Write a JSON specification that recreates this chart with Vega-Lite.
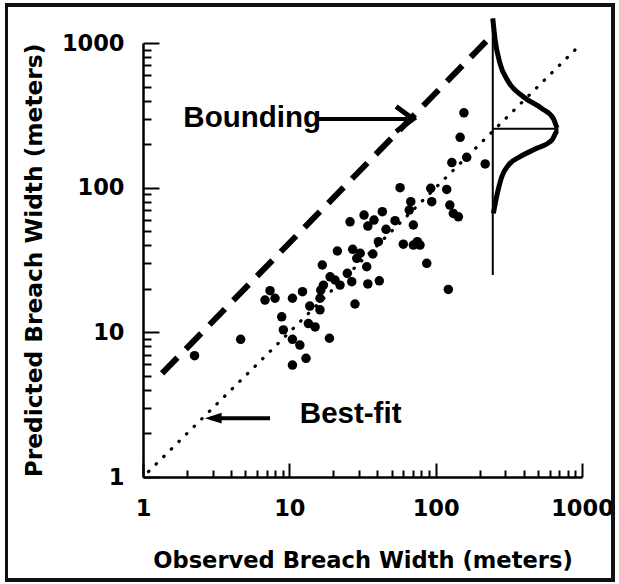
{
  "$schema": "https://vega.github.io/schema/vega-lite/v6.json",
  "width": 439,
  "height": 434,
  "autosize": "none",
  "padding": {"left": 143, "top": 43, "right": 37, "bottom": 107},
  "background": "white",
  "config": {"view": {"stroke": null}, "font": "DejaVu Sans"},
  "resolve": {"axis": {"x": "independent", "y": "independent"}},
  "datasets": {
    "breaches": [
      {"obs": 2.25, "pred": 6.9}, {"obs": 4.65, "pred": 8.95}, {"obs": 6.82, "pred": 16.7},
      {"obs": 7.38, "pred": 19.4}, {"obs": 7.98, "pred": 17.2}, {"obs": 8.87, "pred": 12.8},
      {"obs": 9.1, "pred": 10.4}, {"obs": 10.5, "pred": 17.2}, {"obs": 10.5, "pred": 8.95},
      {"obs": 10.5, "pred": 5.94}, {"obs": 11.8, "pred": 8.17}, {"obs": 12.3, "pred": 19.1},
      {"obs": 13.0, "pred": 6.61}, {"obs": 13.5, "pred": 11.5}, {"obs": 15.0, "pred": 10.9},
      {"obs": 13.8, "pred": 15.2}, {"obs": 16.2, "pred": 14.3}, {"obs": 16.2, "pred": 17.2},
      {"obs": 16.4, "pred": 19.6}, {"obs": 17.1, "pred": 21.2}, {"obs": 16.8, "pred": 29.2},
      {"obs": 18.8, "pred": 9.1}, {"obs": 19.0, "pred": 24.2}, {"obs": 20.5, "pred": 23.0},
      {"obs": 22.2, "pred": 21.2}, {"obs": 21.3, "pred": 36.5}, {"obs": 24.9, "pred": 25.6},
      {"obs": 26.7, "pred": 22.4}, {"obs": 28.1, "pred": 15.7}, {"obs": 26.0, "pred": 58.1},
      {"obs": 27.1, "pred": 37.5}, {"obs": 28.9, "pred": 32.5}, {"obs": 30.5, "pred": 35.2},
      {"obs": 33.8, "pred": 28.4}, {"obs": 34.4, "pred": 21.6}, {"obs": 32.4, "pred": 64.7},
      {"obs": 34.4, "pred": 54.3}, {"obs": 37.9, "pred": 59.7}, {"obs": 37.2, "pred": 34.8},
      {"obs": 41.2, "pred": 22.7}, {"obs": 40.6, "pred": 42.3}, {"obs": 43.2, "pred": 68.2},
      {"obs": 45.8, "pred": 51.5}, {"obs": 52.8, "pred": 59.1}, {"obs": 57.1, "pred": 100},
      {"obs": 60.1, "pred": 40.7}, {"obs": 66.0, "pred": 70}, {"obs": 67.6, "pred": 80},
      {"obs": 70.4, "pred": 55.2}, {"obs": 70.4, "pred": 40.1}, {"obs": 75.0, "pred": 42.3},
      {"obs": 78.2, "pred": 40.1}, {"obs": 86.9, "pred": 30}, {"obs": 92.5, "pred": 98.9},
      {"obs": 94.0, "pred": 80}, {"obs": 119, "pred": 97.3}, {"obs": 122, "pred": 19.8},
      {"obs": 125, "pred": 75.8}, {"obs": 132, "pred": 66.4}, {"obs": 143, "pred": 62.9},
      {"obs": 129, "pred": 149}, {"obs": 147, "pred": 223}, {"obs": 156, "pred": 329},
      {"obs": 163, "pred": 162}, {"obs": 218, "pred": 146}
    ],
    "bounding": [{"obs": 1.35, "pred": 5.2}, {"obs": 228, "pred": 1060}],
    "bestfit": [{"obs": 1.09, "pred": 1.09}, {"obs": 950, "pred": 950}],
    "errorCurve": [
      {"i": 1, "obs": 245.6, "pred": 1479}, {"i": 2, "obs": 255, "pred": 1047},
      {"i": 3, "obs": 275, "pred": 723}, {"i": 4, "obs": 314, "pred": 540},
      {"i": 5, "obs": 397, "pred": 425}, {"i": 6, "obs": 531, "pred": 353},
      {"i": 7, "obs": 637, "pred": 301}, {"i": 8, "obs": 690, "pred": 252},
      {"i": 9, "obs": 622, "pred": 213}, {"i": 10, "obs": 491, "pred": 187},
      {"i": 11, "obs": 378, "pred": 164}, {"i": 12, "obs": 314, "pred": 143},
      {"i": 13, "obs": 283, "pred": 119}, {"i": 14, "obs": 264, "pred": 91.4},
      {"i": 15, "obs": 248, "pred": 66.4}
    ],
    "curveAxes": [
      {"obs": 245.6, "obs2": 245.6, "pred": 24.9, "pred2": 1480},
      {"obs": 245.6, "obs2": 680, "pred": 255, "pred2": 255}
    ],
    "shafts": [
      {"obs": 15.4, "obs2": 67, "pred": 298, "pred2": 298},
      {"obs": 2.9, "obs2": 7.38, "pred": 2.55, "pred2": 2.55}
    ],
    "headRight": [{"obs": 70.1, "pred": 298}],
    "headLeft": [{"obs": 2.65, "pred": 2.55}],
    "notes": [
      {"obs": 1.887, "pred": 263.6, "label": "Bounding"},
      {"obs": 11.8, "pred": 2.35, "label": "Best-fit"}
    ]
  },
  "layer": [
    {
      "data": {"name": "breaches"},
      "mark": {"type": "rect", "filled": false, "stroke": "#111", "strokeWidth": 2.5},
      "encoding": {
        "x": {"datum": 0.1167, "type": "quantitative", "scale": {"type": "log", "domain": [1, 1000]},
          "axis": {
            "orient": "bottom",
            "title": "Observed Breach Width (meters)",
            "values": [1, 10, 100, 1000],
            "format": "d",
            "labelOverlap": false, "labelFlush": false, "grid": false,
            "domainColor": "#000", "domainWidth": 2.5,
            "tickColor": "#000", "tickWidth": 2, "tickSize": -14,
            "labelFont": "DejaVu Sans", "labelFontSize": 22.5, "labelFontWeight": "bold", "labelColor": "#000", "labelPadding": 34,
            "titleFont": "DejaVu Sans", "titleFontSize": 22.6, "titleFontWeight": "bold", "titleColor": "#000", "titlePadding": 30
          }},
        "x2": {"datum": 1632},
        "y": {"datum": 0.194, "type": "quantitative", "scale": {"type": "log", "domain": [1, 1000]},
          "axis": {
            "orient": "left",
            "title": "Predicted Breach Width (meters)",
            "values": [1, 10, 100, 1000],
            "format": "d",
            "labelOverlap": false, "labelFlush": false, "grid": false,
            "domainColor": "#000", "domainWidth": 2.5,
            "tickColor": "#000", "tickWidth": 2, "tickSize": -16,
            "labelFont": "DejaVu Sans", "labelFontSize": 22.5, "labelFontWeight": "bold", "labelColor": "#000", "labelPadding": 35,
            "titleFont": "DejaVu Sans", "titleFontSize": 23.3, "titleFontWeight": "bold", "titleColor": "#000", "titlePadding": 15
          }},
        "y2": {"datum": 1828}
      }
    },
    {
      "data": {"name": "bounding"},
      "mark": {"type": "line", "color": "#000", "strokeWidth": 6, "strokeDash": [22, 12], "strokeCap": "butt"},
      "encoding": {
        "x": {"field": "obs", "type": "quantitative", "scale": {"type": "log", "domain": [1, 1000]},
          "axis": {
            "orient": "bottom", "title": null, "labels": false, "domain": false, "grid": false,
            "values": [2, 3, 4, 5, 6, 7, 8, 9, 20, 30, 40, 50, 60, 70, 80, 90, 200, 300, 400, 500, 600, 700, 800, 900],
            "tickColor": "#000", "tickWidth": 2, "tickSize": -7
          }},
        "y": {"field": "pred", "type": "quantitative", "scale": {"type": "log", "domain": [1, 1000]},
          "axis": {
            "orient": "left", "title": null, "labels": false, "domain": false, "grid": false,
            "values": [2, 3, 4, 5, 6, 7, 8, 9, 20, 30, 40, 50, 60, 70, 80, 90, 200, 300, 400, 500, 600, 700, 800, 900],
            "tickColor": "#000", "tickWidth": 2, "tickSize": -8
          }}
      }
    },
    {
      "data": {"name": "bestfit"},
      "mark": {"type": "line", "color": "#000", "strokeWidth": 3.2, "strokeDash": [0.5, 10.2], "strokeCap": "round"},
      "encoding": {
        "x": {"field": "obs", "type": "quantitative", "scale": {"type": "log", "domain": [1, 1000]}, "axis": null},
        "y": {"field": "pred", "type": "quantitative", "scale": {"type": "log", "domain": [1, 1000]}, "axis": null}
      }
    },
    {
      "data": {"name": "breaches"},
      "mark": {"type": "circle", "color": "#000", "opacity": 1, "size": 90},
      "encoding": {
        "x": {"field": "obs", "type": "quantitative", "scale": {"type": "log", "domain": [1, 1000]}, "axis": null},
        "y": {"field": "pred", "type": "quantitative", "scale": {"type": "log", "domain": [1, 1000]}, "axis": null}
      }
    },
    {
      "data": {"name": "curveAxes"},
      "mark": {"type": "rule", "color": "#000", "strokeWidth": 2},
      "encoding": {
        "x": {"field": "obs", "type": "quantitative", "scale": {"type": "log", "domain": [1, 1000]}, "axis": null},
        "x2": {"field": "obs2"},
        "y": {"field": "pred", "type": "quantitative", "scale": {"type": "log", "domain": [1, 1000]}, "axis": null},
        "y2": {"field": "pred2"}
      }
    },
    {
      "data": {"name": "errorCurve"},
      "mark": {"type": "line", "color": "#000", "strokeWidth": 5, "interpolate": "monotone"},
      "encoding": {
        "x": {"field": "obs", "type": "quantitative", "scale": {"type": "log", "domain": [1, 1000]}, "axis": null},
        "y": {"field": "pred", "type": "quantitative", "scale": {"type": "log", "domain": [1, 1000]}, "axis": null},
        "order": {"field": "i", "type": "quantitative"}
      }
    },
    {
      "data": {"name": "shafts"},
      "mark": {"type": "rule", "color": "#000", "strokeWidth": 4},
      "encoding": {
        "x": {"field": "obs", "type": "quantitative", "scale": {"type": "log", "domain": [1, 1000]}, "axis": null},
        "x2": {"field": "obs2"},
        "y": {"field": "pred", "type": "quantitative", "scale": {"type": "log", "domain": [1, 1000]}, "axis": null},
        "y2": {"field": "pred2"}
      }
    },
    {
      "data": {"name": "headRight"},
      "mark": {"type": "point", "shape": "M-1.36,-1L0,0L-1.36,1", "filled": false, "stroke": "#000", "strokeWidth": 5, "size": 625, "opacity": 1},
      "encoding": {
        "x": {"field": "obs", "type": "quantitative", "scale": {"type": "log", "domain": [1, 1000]}, "axis": null},
        "y": {"field": "pred", "type": "quantitative", "scale": {"type": "log", "domain": [1, 1000]}, "axis": null}
      }
    },
    {
      "data": {"name": "headLeft"},
      "mark": {"type": "point", "shape": "M0,0L1,-0.32L1,0.32Z", "filled": true, "color": "#000", "size": 1115, "opacity": 1},
      "encoding": {
        "x": {"field": "obs", "type": "quantitative", "scale": {"type": "log", "domain": [1, 1000]}, "axis": null},
        "y": {"field": "pred", "type": "quantitative", "scale": {"type": "log", "domain": [1, 1000]}, "axis": null}
      }
    },
    {
      "data": {"name": "notes"},
      "mark": {"type": "text", "align": "left", "baseline": "alphabetic", "font": "Liberation Sans", "fontWeight": "bold", "fontSize": 29.5, "color": "#000"},
      "encoding": {
        "x": {"field": "obs", "type": "quantitative", "scale": {"type": "log", "domain": [1, 1000]}, "axis": null},
        "y": {"field": "pred", "type": "quantitative", "scale": {"type": "log", "domain": [1, 1000]}, "axis": null},
        "text": {"field": "label"}
      }
    }
  ]
}
